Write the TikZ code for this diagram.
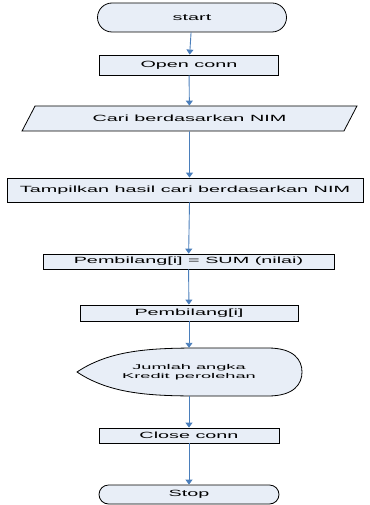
\documentclass[tikz,border=0pt]{standalone}
\usepackage{fontspec}
\setmainfont{Liberation Sans}
\usetikzlibrary{arrows.meta,shapes.geometric}
\definecolor{fcfill}{HTML}{E8EEF7}
\definecolor{fcblue}{HTML}{4A7EBB}
\newcommand\fcw[1]{\scalebox{2.2}[1]{#1}}
\tikzset{fcbox/.style={rectangle,draw=black,fill=fcfill,line width=0.8pt,inner sep=0pt,
           font=\fontsize{9}{9}\selectfont},
         fcterm/.style={fcbox,rounded corners=9.5pt},
         fcio/.style={fcbox,trapezium,trapezium left angle=39,trapezium right angle=141,
           trapezium stretches=true},
         fcarr/.style={draw=fcblue,line width=0.9pt,-{Triangle[width=7pt,length=5pt]}}}

\begin{document}
\begin{tikzpicture}[x=1pt,y=-1pt]
    \useasboundingbox (0,0) rectangle (369,505);
    \node[fcterm,rounded corners=14.5pt,minimum width=189pt,minimum height=29pt] (start) at (192,17.5) {\fcw{start}};
    \node[fcbox,minimum width=179pt,minimum height=20pt] (open) at (189,65) {\fcw{Open conn}};
    \node[fcio,minimum width=335pt,minimum height=25pt] (cari) at (189.5,118.5) {\fcw{Cari berdasarkan NIM}};
    \node[fcbox,minimum width=356pt,minimum height=24pt] (tampil) at (185,190) {\fcw{Tampilkan hasil cari berdasarkan NIM}};
    \node[fcbox,minimum width=291pt,minimum height=15pt] (sum) at (188.5,261.5) {\fcw{Pembilang[i] = SUM (nilai)}};
    \node[fcbox,minimum width=218pt,minimum height=16pt] (pemb) at (189,313) {\fcw{Pembilang[i]}};
    % display shape
    \filldraw[fill=fcfill,line width=0.8pt] (77,372) .. controls (110,350) and (150,348) .. (200,348) -- (268,348)
      .. controls (294,348) and (302,360) .. (302,372) .. controls (302,384) and (294,396) .. (268,396)
      -- (200,396) .. controls (150,396) and (110,394) .. (77,372) -- cycle;
    \node[inner sep=0pt,minimum width=225pt,minimum height=48pt,font=\fontsize{7}{6}\selectfont,align=center] (disp) at (189,372)
      {\scalebox{2.6}[1]{\shortstack{Jumlah angka\\[-1pt]Kredit perolehan}}};
    \node[fcbox,minimum width=180pt,minimum height=15pt] (close) at (189,435.5) {\fcw{Close conn}};
    \node[fcterm,minimum width=180pt,minimum height=19pt] (stop) at (189,494.5) {\fcw{Stop}};
    \foreach \a/\b in {start/open,open/cari,sum/pemb,pemb/disp,disp/close,close/stop}
      {\draw[fcarr] (\a) -- (\b);}
    \draw[fcarr] (cari) -- (cari |- tampil.north);
    \draw[fcarr] (cari |- tampil.south) -- (sum);
\end{tikzpicture}
\end{document}
